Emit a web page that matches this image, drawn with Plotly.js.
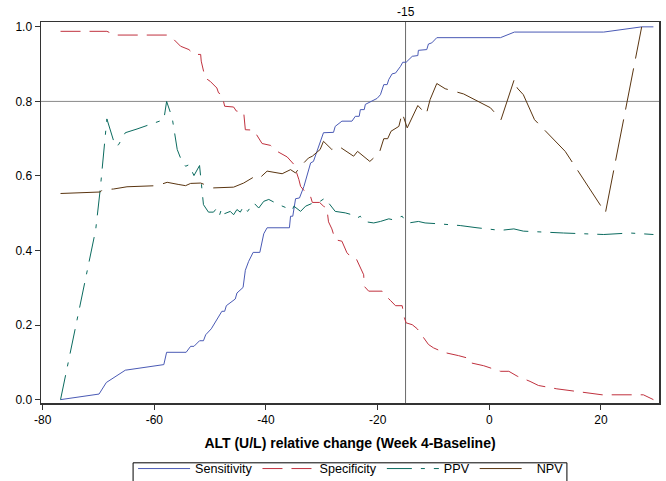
<!DOCTYPE html>
<html>
<head>
<meta charset="utf-8">
<script src="https://cdn.plot.ly/plotly-3.0.1.min.js"></script>
<style>html,body{margin:0;padding:0;background:#fff;}#chart{width:666px;height:481px;}</style>
</head>
<body>
<div id="chart"></div>
<script>
// ---- data ----
const seriesNames = ["Sensitivity", "Specificity", "PPV", "NPV"];

const sensX = [-76.8,-69.9,-68.6,-65.2,-58.3,-57.8,-54.3,-53.5,-52.9,-51.9,-51.2,-50.8,-49.8,-49.1,-48.6,-47.9,-47.4,-47.1,-45.5,-45.2,-44.1,-43.7,-43.1,-42.3,-41.1,-40.4,-39.8,-35.8,-35.6,-35.2,-34.7,-34.0,-33.2,-32.0,-31.5,-29.7,-27.9,-27.6,-26.4,-24.6,-24.0,-23.3,-23.1,-22.4,-22.2,-20.1,-19.5,-18.9,-18.3,-18.0,-17.4,-16.8,-15.9,-15.5,-14.9,-13.8,-12.8,-12.7,-11.2,-10.9,-10.3,-9.4,2.0,4.5,20.5,27.3,29.4];
const sensY = [0,0.015,0.046,0.079,0.094,0.127,0.127,0.143,0.143,0.158,0.158,0.174,0.19,0.206,0.221,0.237,0.237,0.252,0.27,0.286,0.301,0.347,0.371,0.395,0.395,0.445,0.461,0.461,0.492,0.492,0.539,0.541,0.572,0.635,0.639,0.716,0.717,0.733,0.747,0.747,0.76,0.76,0.778,0.778,0.792,0.808,0.818,0.845,0.845,0.859,0.874,0.876,0.894,0.905,0.905,0.921,0.923,0.937,0.939,0.954,0.957,0.971,0.971,0.986,0.986,1.0,1.0];

const specX = [-76.8,-68.5,-67.0,-57.7,-56.5,-55.3,-53.8,-52.9,-51.7,-51.6,-50.9,-50.0,-48.8,-48.5,-47.9,-47.4,-45.8,-45.3,-44.0,-43.7,-42.2,-40.7,-39.2,-38.0,-36.2,-35.0,-34.1,-33.8,-32.9,-32.0,-31.7,-30.4,-29.7,-29.1,-28.8,-28.2,-27.6,-26.4,-25.5,-24.6,-23.8,-23.1,-22.5,-22.4,-21.6,-19.2,-18.6,-17.7,-16.8,-15.6,-15.3,-14.9,-13.8,-12.9,-11.8,-10.9,-10.0,-8.2,-5.5,-4.0,-3.7,-1.0,0.8,2.0,3.5,5.0,7.3,8.8,12.1,16.9,20.2,27.6,29.4];
const specY = [0.988,0.988,0.978,0.978,0.966,0.948,0.939,0.926,0.926,0.908,0.863,0.854,0.836,0.823,0.818,0.787,0.785,0.774,0.772,0.724,0.723,0.687,0.682,0.666,0.651,0.631,0.59,0.572,0.556,0.544,0.529,0.529,0.519,0.514,0.477,0.458,0.429,0.425,0.394,0.38,0.377,0.353,0.335,0.304,0.291,0.291,0.279,0.266,0.252,0.252,0.224,0.206,0.201,0.19,0.166,0.148,0.139,0.127,0.118,0.112,0.1,0.091,0.082,0.076,0.076,0.063,0.049,0.038,0.029,0.02,0.013,0.013,0.0];

const ppvX = [-76.8,-70.5,-69.7,-68.5,-67.0,-66.4,-65.2,-63.1,-58.3,-57.8,-56.8,-55.9,-55.3,-54.4,-53.8,-52.9,-51.9,-51.4,-51.2,-50.3,-49.4,-48.8,-48.3,-47.9,-47.4,-46.4,-45.8,-45.2,-44.6,-44.0,-43.3,-42.2,-41.3,-40.4,-39.5,-37.7,-36.2,-35.3,-35.0,-33.8,-32.9,-31.5,-30.3,-29.4,-28.8,-27.6,-25.8,-24.6,-23.7,-23.1,-22.5,-20.7,-19.5,-18.0,-17.4,-16.5,-15.6,-15.0,-14.4,-12.7,-11.5,-9.4,-5.2,-2.2,-0.1,2.0,4.4,6.1,13.3,20.5,25.2,29.4];
const ppvY = [0,0.456,0.563,0.753,0.68,0.684,0.716,0.726,0.751,0.80,0.756,0.671,0.648,0.626,0.63,0.601,0.628,0.545,0.523,0.503,0.503,0.514,0.496,0.514,0.499,0.505,0.496,0.51,0.503,0.519,0.505,0.528,0.514,0.532,0.537,0.523,0.514,0.508,0.519,0.505,0.519,0.528,0.532,0.541,0.528,0.505,0.501,0.496,0.487,0.492,0.478,0.474,0.478,0.485,0.483,0.487,0.492,0.478,0.474,0.478,0.474,0.472,0.467,0.461,0.458,0.454,0.458,0.452,0.447,0.443,0.447,0.443];

const npvX = [-76.8,-69.7,-69.3,-67.3,-64.9,-59.5,-57.7,-56.2,-55.6,-54.4,-53.5,-51.7,-49.4,-45.8,-44.0,-42.2,-41.3,-39.8,-37.1,-35.6,-34.7,-33.8,-32.4,-31.7,-30.3,-29.7,-28.8,-28.2,-27.0,-25.2,-24.3,-23.6,-22.5,-21.4,-19.7,-18.9,-18.2,-17.6,-16.2,-15.6,-14.7,-13.8,-12.8,-11.3,-10.6,-9.4,-7.9,-4.6,0.2,2.1,4.5,5.0,6.1,8.1,13.6,20.8,27.3];
const npvY = [0.553,0.557,0.563,0.565,0.571,0.574,0.583,0.58,0.577,0.574,0.58,0.581,0.568,0.57,0.581,0.597,0.592,0.613,0.606,0.617,0.608,0.626,0.648,0.653,0.671,0.693,0.68,0.671,0.68,0.662,0.653,0.666,0.653,0.639,0.662,0.70,0.70,0.72,0.733,0.769,0.729,0.758,0.789,0.765,0.805,0.848,0.834,0.82,0.783,0.751,0.86,0.836,0.818,0.751,0.666,0.501,1.0];

const xTickVals = [-80, -60, -40, -20, 0, 20];
const xTickText = ["-80", "-60", "-40", "-20", "0", "20"];
const yTickVals = [0, 0.2, 0.4, 0.6, 0.8, 1.0];
const yTickText = ["0.0", "0.2", "0.4", "0.6", "0.8", "1.0"];

const refY = 0.8;      // horizontal reference line
const refX = -15;      // vertical reference line
const refXLabel = "-15";
const xTitle = "ALT (U/L) relative change (Week 4-Baseline)";

// ---- styles ----
const FONT = "Liberation Sans, Arial, sans-serif";
const colors = ["#4a5ab5", "#c0313e", "#0b6b5f", "#5a3510"];
const dashes = ["solid", "20px,9px", "25px,9px,4px,9px", "42px,10px"];
const xs = [sensX, specX, ppvX, npvX];
const ys = [sensY, specY, ppvY, npvY];

const traces = seriesNames.map((n, i) => ({
  type: "scatter", mode: "lines", name: n,
  x: xs[i], y: ys[i],
  line: {color: colors[i], width: 1, dash: dashes[i]}
}));

const layout = {
  width: 666, height: 481,
  margin: {l: 41, r: 7, t: 22, b: 78, autoexpand: false},
  paper_bgcolor: "#fff", plot_bgcolor: "#fff",
  font: {family: FONT, size: 12, color: "#000"},
  showlegend: true,
  legend: {
    orientation: "h", x: 0.149, xanchor: "left", y: -0.1335, yanchor: "top",
    bgcolor: "rgba(0,0,0,0)", borderwidth: 0,
    font: {size: 12.6, family: FONT, color: "#000"},
    itemwidth: 52, tracegroupgap: 0
  },
  xaxis: {
    range: [-80.3, 30.4], tickmode: "array", tickvals: xTickVals, ticktext: xTickText,
    ticks: "outside", ticklen: 5, tickcolor: "#333", tickwidth: 1,
    showline: true, mirror: true, linecolor: "#333", linewidth: 1.5,
    showgrid: false, zeroline: false,
    tickfont: {size: 12, family: FONT, color: "#000"},
    title: {text: xTitle, font: {size: 14, family: FONT, weight: "bold", color: "#000"}, standoff: 12},
    automargin: false
  },
  yaxis: {
    range: [-0.009, 1.013], tickmode: "array", tickvals: yTickVals, ticktext: yTickText,
    ticks: "outside", ticklen: 5, tickcolor: "#333", tickwidth: 1,
    showline: true, mirror: true, linecolor: "#333", linewidth: 1.5,
    showgrid: false, zeroline: false,
    tickfont: {size: 12, family: FONT, color: "#000"},
    automargin: false
  },
  shapes: [
    {type: "line", xref: "paper", x0: 0, x1: 1, yref: "y", y0: refY, y1: refY,
     line: {color: "#8a8a8a", width: 1}, layer: "below"},
    {type: "line", xref: "x", x0: refX, x1: refX, yref: "paper", y0: 0, y1: 1,
     line: {color: "#6a6a6a", width: 1}, layer: "below"},
    // legend frame (runs past the bottom edge, as in the reference)
    {type: "rect", xref: "paper", yref: "paper", x0: 0.149, x1: 0.851, y0: -0.157, y1: -0.26,
     line: {color: "#000", width: 1}, fillcolor: "rgba(0,0,0,0)", layer: "above"}
  ],
  annotations: [
    {x: refX, xref: "x", y: 1, yref: "paper", yanchor: "bottom", yshift: 1,
     text: refXLabel, showarrow: false, font: {size: 12, family: FONT, color: "#000"}}
  ]
};

Plotly.newPlot("chart", traces, layout, {displayModeBar: false, staticPlot: true});
</script>
</body>
</html>
